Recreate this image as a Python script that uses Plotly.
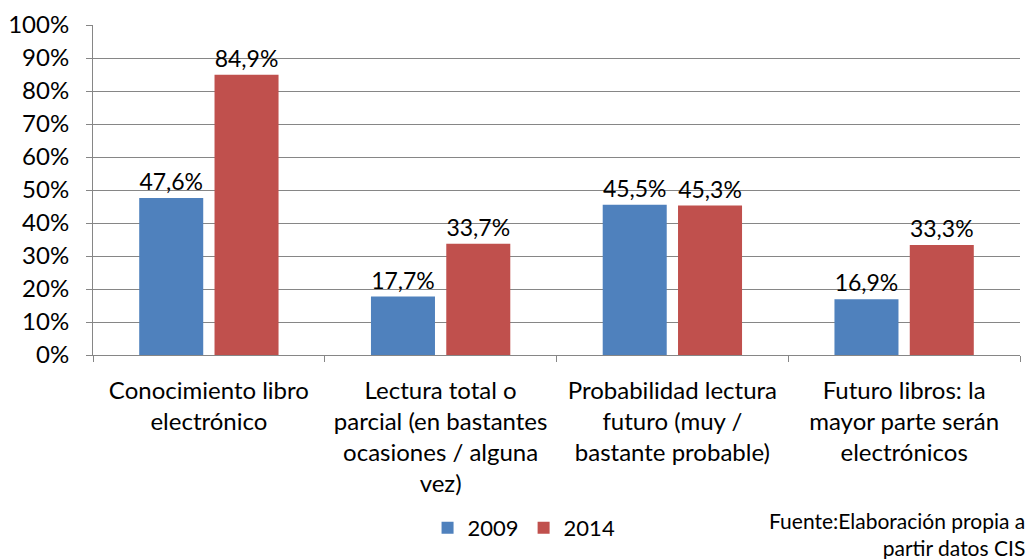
import plotly.graph_objects as go

# Data
categories = [
    "Conocimiento libro<br>electrónico",
    "Lectura total o<br>parcial (en bastantes<br>ocasiones / alguna<br>vez)",
    "Probabilidad lectura<br>futuro (muy /<br>bastante probable)",
    "Futuro libros: la<br>mayor parte serán<br>electrónicos",
]
values_2009 = [47.6, 17.7, 45.5, 16.9]
values_2014 = [84.9, 33.7, 45.3, 33.3]
y_ticks = [0, 10, 20, 30, 40, 50, 60, 70, 80, 90, 100]

_BLUE = "#4F81BD"
_RED = "#C0504D"
_GRID = "#868686"
_FONT = "Lato, 'Open Sans', sans-serif"


def _label(v):
    return f"{v:.1f}%".replace(".", ",")


fig = go.Figure()
for name, vals, color in [("2009", values_2009, _BLUE), ("2014", values_2014, _RED)]:
    fig.add_bar(
        x=categories,
        y=vals,
        name=name,
        marker_color=color,
        marker_line_width=0,
        text=[_label(v) for v in vals],
        textposition="outside",
        textfont={"size": 23, "color": "#000000"},
        cliponaxis=False,
    )

fig.update_layout(
    width=1029,
    height=559,
    margin={"l": 93, "r": 9, "t": 25, "b": 204, "autoexpand": False},
    paper_bgcolor="white",
    plot_bgcolor="white",
    font={"family": _FONT, "size": 23, "color": "#000000"},
    barmode="group",
    bargap=0.35,
    bargroupgap=0.15,
    showlegend=True,
    legend={
        "orientation": "h",
        "x": 0.465,
        "xanchor": "center",
        "y": -0.524,
        "yanchor": "middle",
        "font": {"size": 22},
        "itemwidth": 30,
    },
    annotations=[
        {
            "text": "Fuente:Elaboración propia a<br>partir datos CIS",
            "xref": "paper",
            "yref": "paper",
            "x": 1.0075,
            "y": -0.458,
            "xanchor": "right",
            "yanchor": "top",
            "align": "right",
            "showarrow": False,
            "font": {"size": 21},
        }
    ],
)
fig.update_xaxes(
    showline=True,
    linecolor=_GRID,
    linewidth=1,
    ticks="outside",
    tickson="boundaries",
    ticklen=6,
    tickcolor=_GRID,
    tickangle=0,
    tickfont={"size": 24},
    ticklabelstandoff=14,
    automargin=False,
)
fig.update_yaxes(
    range=[0, 100],
    tickvals=y_ticks,
    ticktext=[f"{t}%" for t in y_ticks],
    tickfont={"size": 24},
    showgrid=True,
    gridcolor=_GRID,
    gridwidth=1,
    showline=True,
    linecolor=_GRID,
    ticks="outside",
    ticklen=6,
    tickcolor=_GRID,
    ticklabelstandoff=12,
    zeroline=False,
    automargin=False,
)

# drop the default body margin so the figure fills the window exactly
fig.write_html(
    "out.html",
    config={"displayModeBar": False},
    post_script="document.body.style.margin = '0';",
)
